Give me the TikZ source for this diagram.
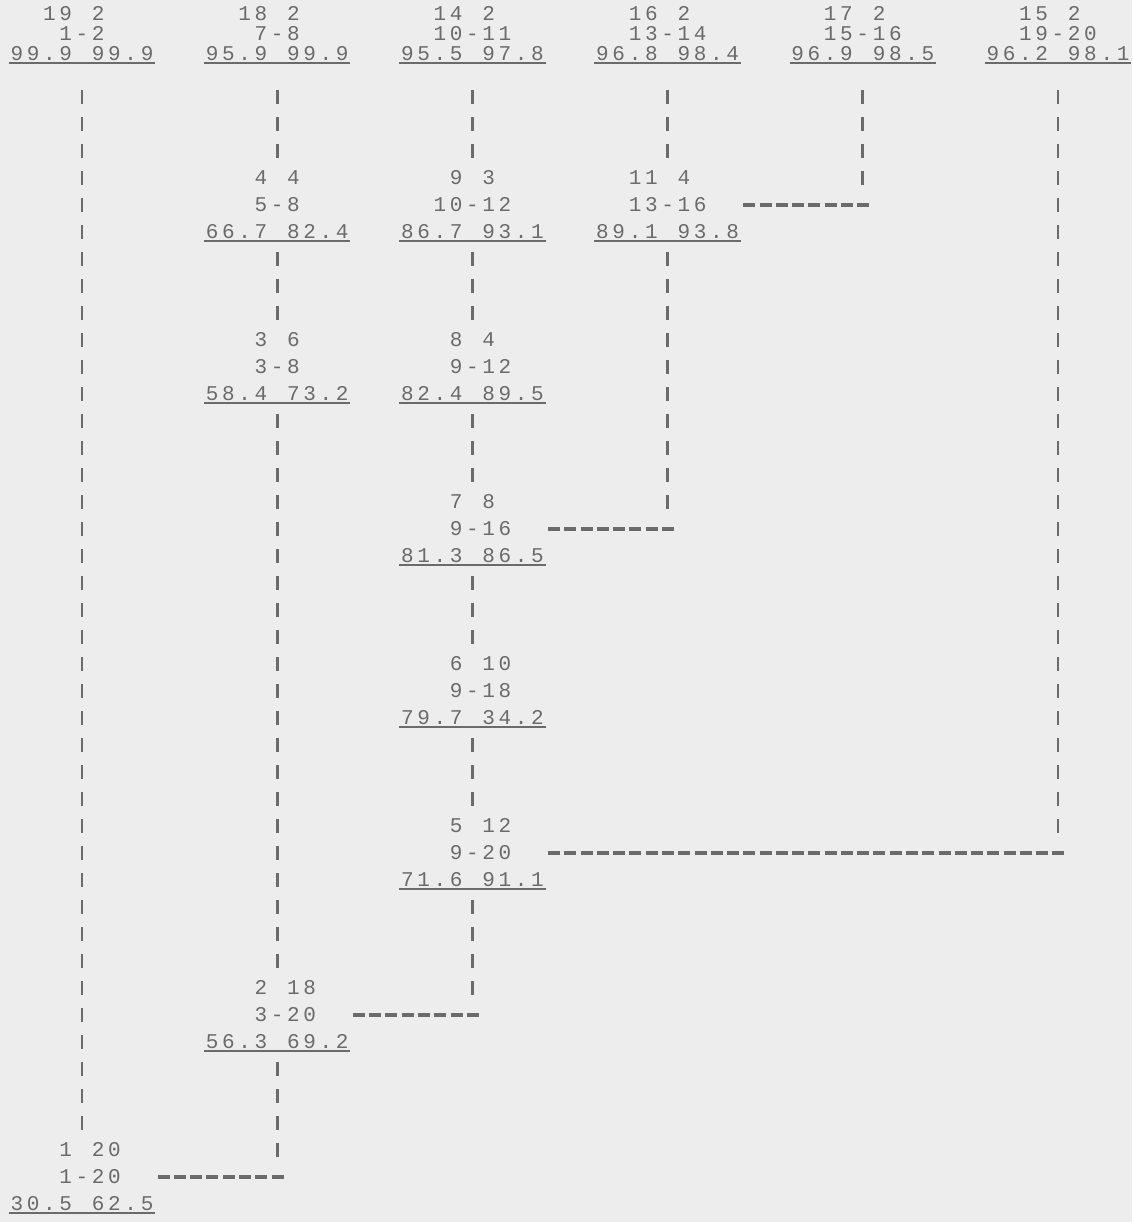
\documentclass[tikz,border=0pt]{standalone}
\usepackage{fontspec}
\setmonofont{Liberation Mono}
\usepackage{tikz}
\usetikzlibrary{calc}

\definecolor{ink}{gray}{0.42}
\definecolor{paper}{gray}{0.93}
\newlength{\cw}
\setlength{\cw}{8.135pt}
\def\cellsi#1{\ifx#1\relax\else\makebox[\cw]{#1}\expandafter\cellsi\fi}
\newcommand{\cells}[1]{\cellsi#1\relax}
\newcommand{\uln}[1]{\setbox0\hbox{#1}\rlap{\rule[-1.5pt]{\wd0}{0.8pt}}\box0}
\newcommand{\trio}[3]{\rs\llap{\cells{#1}}\makebox[\cw]{#2}\rlap{\cells{#3}}}
\newcommand{\grp}[6]{\trio{#1}{}{#2}\\\trio{#3}{-}{#4}\\%
  \rs\llap{\uln{\cells{#5}}}\uln{\makebox[\cw]{}}\rlap{\uln{\cells{#6}}}}

\begin{document}
\begin{tikzpicture}[x=0.5pt,y=-0.5pt,
  grp/.style={align=center,inner sep=0pt,text=ink,
    font=\ttfamily\fontsize{10.5pt}{13.5pt}\selectfont\def\rs{\rule[-3.3pt]{0pt}{13.5pt}}},
  topgrp/.style={grp,
    font=\ttfamily\fontsize{10.5pt}{10pt}\selectfont\def\rs{\rule[-1.55pt]{0pt}{10pt}}},
  vbar/.style={draw=ink,line width=1.4pt,dash pattern=on 7pt off 6.5pt},
  hbar/.style={draw=ink,line width=1.6pt,dash pattern=on 6pt off 2.135pt,dash phase=7.1pt}]
  \fill[paper] (0,0) rectangle (1132,1222);
  \useasboundingbox (0,0) rectangle (1132,1222);

  \node[topgrp] (c19) at (82,34)    {\grp{19}{2}{1}{2}{99.9}{99.9}};
  \node[topgrp] (c18) at (277.2,34) {\grp{18}{2}{7}{8}{95.9}{99.9}};
  \node[topgrp] (c14) at (472.4,34) {\grp{14}{2}{10}{11}{95.5}{97.8}};
  \node[topgrp] (c16) at (667.6,34) {\grp{16}{2}{13}{14}{96.8}{98.4}};
  \node[topgrp] (c17) at (862.8,34) {\grp{17}{2}{15}{16}{96.9}{98.5}};
  \node[topgrp] (c15) at (1058,34)  {\grp{15}{2}{19}{20}{96.2}{98.1}};

  \node[grp] (c4)  at (277.2,205)  {\grp{4}{4}{5}{8}{66.7}{82.4}};
  \node[grp] (c9)  at (472.4,205)  {\grp{9}{3}{10}{12}{86.7}{93.1}};
  \node[grp] (c11) at (667.6,205)  {\grp{11}{4}{13}{16}{89.1}{93.8}};
  \node[grp] (c3)  at (277.2,367)  {\grp{3}{6}{3}{8}{58.4}{73.2}};
  \node[grp] (c8)  at (472.4,367)  {\grp{8}{4}{9}{12}{82.4}{89.5}};
  \node[grp] (c7)  at (472.4,529)  {\grp{7}{8}{9}{16}{81.3}{86.5}};
  \node[grp] (c6)  at (472.4,691)  {\grp{6}{10}{9}{18}{79.7}{34.2}};
  \node[grp] (c5)  at (472.4,853)  {\grp{5}{12}{9}{20}{71.6}{91.1}};
  \node[grp] (c2)  at (277.2,1015) {\grp{2}{18}{3}{20}{56.3}{69.2}};
  \node[grp] (c1)  at (82,1177)    {\grp{1}{20}{1}{20}{30.5}{62.5}};

  \draw[vbar] ($(c19.south)+(0,26)$) -- ($(c19.south |- c1.north)+(0,-6.5)$);
  \draw[vbar] ($(c18.south)+(0,26)$) -- ($(c18.south |- c4.north)+(0,-6.5)$);
  \draw[vbar] ($(c14.south)+(0,26)$) -- ($(c14.south |- c9.north)+(0,-6.5)$);
  \draw[vbar] ($(c16.south)+(0,26)$) -- ($(c16.south |- c11.north)+(0,-6.5)$);
  \draw[vbar] ($(c17.south)+(0,26)$) -- ($(c17.south |- c11.north)+(0,20.5)$);
  \draw[vbar] ($(c15.south)+(0,26)$) -- ($(c15.south |- c5.north)+(0,20.5)$);
  \draw[vbar] ($(c4.south)+(0,6.5)$) -- ($(c4.south |- c3.north)+(0,-6.5)$);
  \draw[vbar] ($(c3.south)+(0,6.5)$) -- ($(c3.south |- c2.north)+(0,-6.5)$);
  \draw[vbar] ($(c9.south)+(0,6.5)$) -- ($(c9.south |- c8.north)+(0,-6.5)$);
  \draw[vbar] ($(c8.south)+(0,6.5)$) -- ($(c8.south |- c7.north)+(0,-6.5)$);
  \draw[vbar] ($(c11.south)+(0,6.5)$) -- ($(c11.south |- c7.north)+(0,20.5)$);
  \draw[vbar] ($(c7.south)+(0,6.5)$) -- ($(c7.south |- c6.north)+(0,-6.5)$);
  \draw[vbar] ($(c6.south)+(0,6.5)$) -- ($(c6.south |- c5.north)+(0,-6.5)$);
  \draw[vbar] ($(c5.south)+(0,6.5)$) -- ($(c5.south |- c2.north)+(0,20.5)$);
  \draw[vbar] ($(c2.south)+(0,6.5)$) -- ($(c2.south |- c1.north)+(0,20.5)$);

  \draw[hbar] ([xshift=4\cw]c11.east) -- (c17.east |- c11.center);
  \draw[hbar] ([xshift=4\cw]c7.east) -- (c11.east |- c7.center);
  \draw[hbar] ([xshift=4\cw]c5.east) -- (c15.east |- c5.center);
  \draw[hbar] ([xshift=4\cw]c2.east) -- (c5.east |- c2.center);
  \draw[hbar] ([xshift=4\cw]c1.east) -- (c2.east |- c1.center);
\end{tikzpicture}
\end{document}
